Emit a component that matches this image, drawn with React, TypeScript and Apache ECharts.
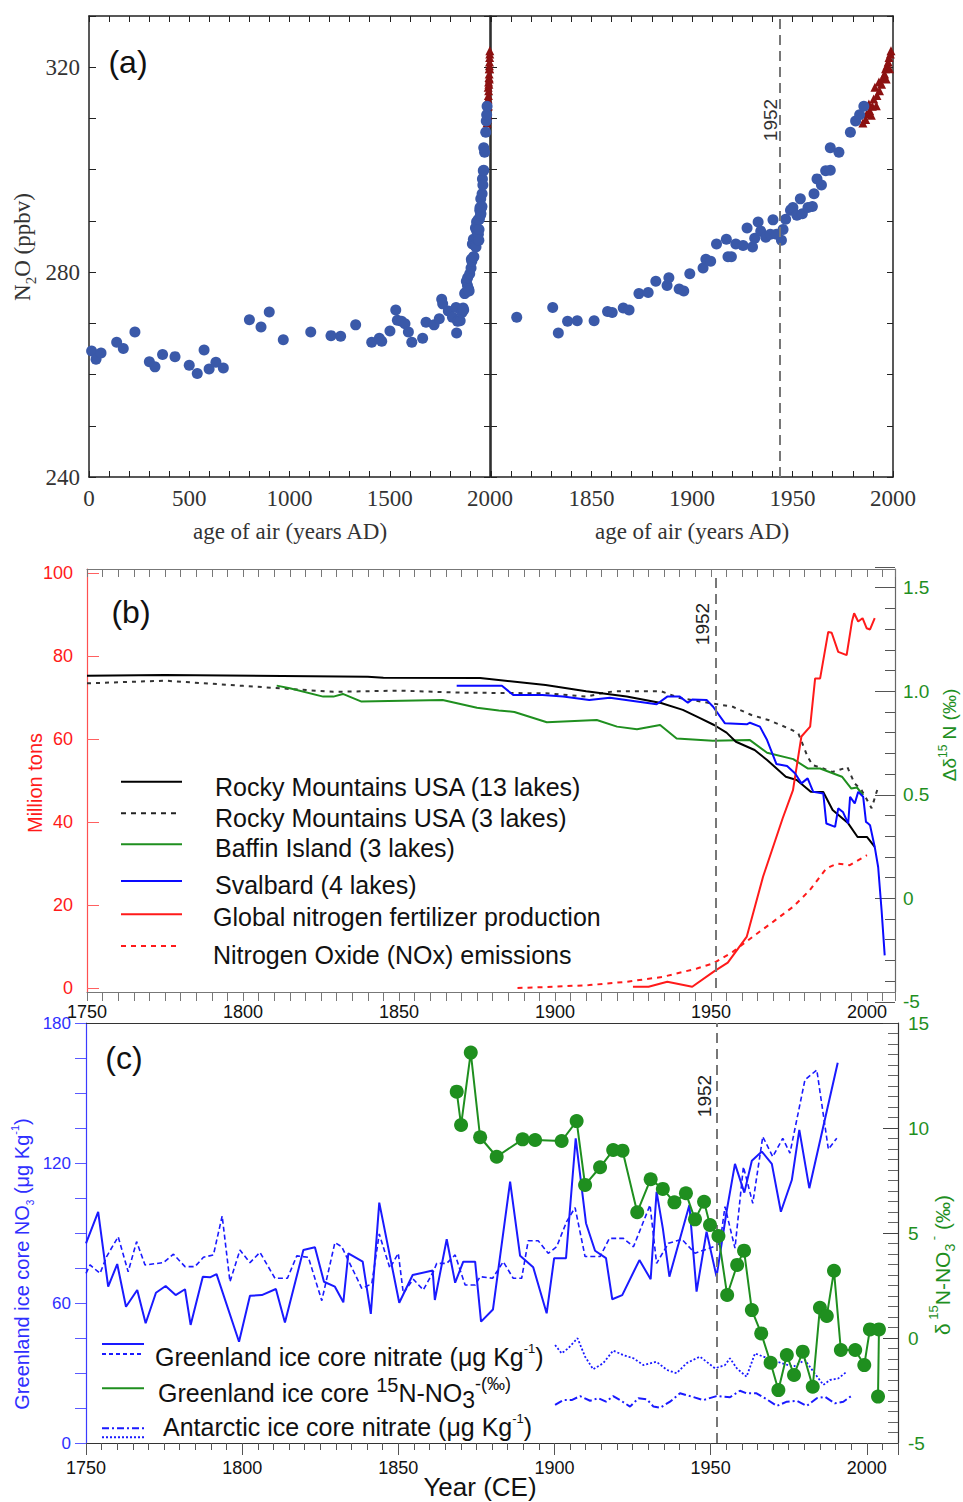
import React, { useEffect, useRef } from "react";
import * as echarts from "echarts";

const SANS = "Liberation Sans";
const SERIF = "Liberation Serif";

// ---------------- Panel (a): N2O ice core + atmospheric ----------------
const n2oIceEarly: [number, number][] = [
  [13, 264.6], [35, 263.0], [60, 264.2], [138, 266.3], [171, 265.1], [229, 268.3],
  [301, 262.5], [329, 261.5], [367, 263.9], [429, 263.5], [500, 261.8], [540, 260.2],
  [574, 264.8], [599, 261.1], [633, 262.4], [670, 261.3], [800, 270.7], [858, 269.3],
  [899, 272.2], [969, 266.8], [1106, 268.3], [1207, 267.6], [1255, 267.5], [1330, 269.7],
  [1410, 266.3], [1448, 267.1], [1460, 266.5], [1501, 268.5], [1530, 272.6], [1538, 270.6],
  [1559, 270.4], [1576, 269.9], [1593, 268.3], [1610, 266.3], [1664, 267.1], [1681, 270.2],
  [1721, 269.7], [1747, 270.9], [1759, 274.7], [1764, 273.8], [1792, 272.4],
];
const n2oIceRecent: [number, number][] = [
  [1812.8, 271.2], [1830.7, 273.1], [1833.5, 268.1], [1838.1, 270.4], [1842.9, 270.5],
  [1851.3, 270.5], [1858, 272.3], [1860.3, 272.1], [1865.8, 273.0], [1868.7, 272.6],
  [1873.6, 275.8], [1878.2, 276.0], [1882, 278.2], [1887.6, 277.4], [1888.5, 278.9],
  [1893.6, 276.7], [1895.9, 276.3], [1898.9, 279.7], [1905.5, 280.8], [1906.9, 282.5],
  [1909.3, 282.1], [1912.2, 285.5], [1917.1, 286.4], [1917.9, 283.0], [1919.6, 283.0],
  [1921.8, 285.5], [1925.4, 285.2], [1927.4, 288.6], [1930.1, 284.9], [1931.2, 286.6],
  [1932.9, 289.8], [1934.2, 288.0], [1936.7, 286.8], [1939, 287.4], [1940.3, 290.2],
  [1942, 287.4], [1944.5, 286.2], [1945.3, 288.3], [1946.6, 290.3], [1949, 292.1],
  [1950.2, 292.6], [1952.2, 291.1], [1953.9, 294.3], [1954.9, 291.4], [1957.7, 292.6],
  [1959.9, 292.8], [1960.7, 295.3], [1962.2, 298.2], [1964.4, 297.0], [1966.5, 299.8],
  [1968.8, 299.9], [1968.8, 304.3], [1973.1, 303.4], [1978.8, 307.3], [1981.4, 309.5],
  [1983.4, 310.7], [1985.5, 312.4],
];
const n2oAtmos: [number, number][] = [
  [1985.0, 309.1], [1986.4, 309.8], [1987.0, 310.9], [1988.4, 311.5], [1988.0, 312.8],
  [1989.2, 310.6], [1989.7, 312.4], [1990.4, 313.8], [1991.0, 316.1], [1991.7, 312.5],
  [1992.0, 314.5], [1993.3, 315.4], [1993.0, 317.1], [1994.3, 316.7], [1995.0, 318.0],
  [1995.8, 318.7], [1996.3, 319.7], [1996.6, 317.7], [1997.0, 320.3], [1997.6, 321.0],
  [1998.0, 321.9], [1998.3, 319.7], [1998.7, 322.6], [1999.0, 323.2],
];

// ---------------- Panel (b): lake sediment Δδ15N + fertilizer/NOx ----------------
const rocky13: [number, number][] = [
  [1750, 1.075], [1775, 1.078], [1840, 1.07], [1845, 1.065], [1876, 1.064], [1897, 1.03],
  [1910, 1.0], [1923, 0.975], [1934, 0.943], [1941, 0.91], [1946.5, 0.87], [1951, 0.837],
  [1955, 0.8], [1958, 0.756], [1964, 0.716], [1968, 0.668], [1974, 0.587], [1977.5, 0.571],
  [1982, 0.514], [1986, 0.513], [1989, 0.426], [1994, 0.362], [1997, 0.296], [2000, 0.296],
  [2002.5, 0.248],
];
const rocky3: [number, number][] = [
  [1750, 1.038], [1775, 1.051], [1800, 1.026], [1812, 1.014], [1829, 0.997], [1850, 1.003],
  [1870, 0.993], [1897, 0.99], [1910, 0.974], [1915, 0.99], [1919, 1.0], [1934, 1.0],
  [1940, 0.967], [1950.5, 0.941], [1957, 0.925], [1963, 0.885], [1968.4, 0.861], [1975, 0.82],
  [1978, 0.797], [1981, 0.683], [1982.6, 0.643], [1986, 0.627], [1989, 0.61], [1992.6, 0.627],
  [1993.7, 0.635], [1996, 0.556], [1998.3, 0.522], [2001.5, 0.435], [2003.6, 0.538],
];
const baffin: [number, number][] = [
  [1810.8, 1.027], [1815, 1.014], [1825.7, 0.974], [1829, 0.974], [1832, 0.987], [1838, 0.95],
  [1864, 0.958], [1875, 0.92], [1882, 0.907], [1887, 0.9], [1897.4, 0.85], [1913.4, 0.861],
  [1919.9, 0.829], [1926.3, 0.816], [1933.7, 0.837], [1939, 0.772], [1950.6, 0.761],
  [1962.5, 0.764], [1968, 0.703], [1976.4, 0.672], [1981, 0.627], [1985, 0.627], [1992, 0.587],
  [1995, 0.53], [1996.8, 0.535], [1998.8, 0.498],
];
const svalbard: [number, number][] = [
  [1868.5, 1.027], [1883, 1.026], [1886.6, 0.982], [1896, 0.982], [1902.6, 0.974], [1911, 0.958],
  [1917.6, 0.969], [1932.6, 0.937], [1936, 0.974], [1940, 0.974], [1942.6, 0.944], [1944, 0.96],
  [1948.6, 0.958], [1950.7, 0.925], [1954.5, 0.845], [1961.5, 0.84], [1962.5, 0.848],
  [1965.7, 0.829], [1968, 0.764], [1971, 0.648], [1974.4, 0.639], [1977, 0.603], [1979, 0.555],
  [1981, 0.579], [1982.8, 0.514], [1986, 0.506], [1987, 0.361], [1989.8, 0.345], [1990.8, 0.434],
  [1992.3, 0.417], [1994, 0.361], [1994.6, 0.49], [1996.1, 0.458], [1997.2, 0.514],
  [1998.8, 0.49], [1999.7, 0.369], [2000.4, 0.361], [2001, 0.353], [2002.5, 0.248],
  [2003.6, 0.151], [2004.7, -0.058], [2005.7, -0.276],
];
const fertilizer: [number, number][] = [
  [1925, 0.3], [1930, 0.3], [1936, 1.5], [1944, 0.3], [1951, 4], [1955.4, 6.1], [1961.5, 12.4],
  [1966.7, 26.8], [1973, 40.9], [1976.3, 47.7], [1979, 60.6], [1981.8, 63], [1983.4, 74.6],
  [1985, 74.6], [1987.6, 85.8], [1988.7, 85.6], [1990.8, 81], [1993.5, 80.2], [1995.2, 88.3],
  [1995.9, 90.3], [1997.2, 88.3], [1998.6, 89.1], [1999.9, 86.7], [2001, 86.4], [2002.5, 89.1],
];
const noxEmissions: [number, number][] = [
  [1888, 0], [1899.5, 0.3], [1911, 0.7], [1923, 1.5], [1934.7, 2.7], [1945.5, 4.7],
  [1950.6, 5.9], [1957, 8.7], [1963.5, 12.4], [1970, 16], [1976.4, 19.6], [1981.7, 23.6],
  [1987, 28.8], [1990.4, 30], [1994.5, 29.6], [2000, 32],
];

// ---------------- Panel (c): ice core nitrate ----------------
const greenlandNitrateA: [number, number][] = [
  [1750, 85.6], [1753.9, 99.1], [1757.1, 67.0], [1760, 76.7], [1762.8, 58.4], [1766.4, 65.6],
  [1769.1, 51.3], [1772.4, 64.4], [1775.5, 67.3], [1778.7, 63.4], [1781.7, 65.9], [1783.5, 50.6],
  [1787.4, 71.3], [1789.7, 71.0], [1791.8, 72.4], [1799, 43.4], [1802.5, 63.1], [1806.3, 63.4],
  [1810.8, 66.0], [1813.7, 51.6], [1819.6, 82.7], [1823.3, 83.9], [1826.2, 69.1], [1829.7, 67.0],
  [1832.4, 60.3], [1834, 81.3], [1838.6, 77.7], [1841.2, 55.3], [1843.9, 103.0], [1850.3, 60.1],
  [1854.6, 72.0], [1861, 73.9], [1861.7, 61.3], [1865.5, 87.3], [1868.2, 68.7], [1870.8, 77.7],
  [1874.6, 77.7], [1876.5, 52.0], [1880.3, 57.2], [1885.8, 112.0], [1889, 80.2], [1893.2, 75.3],
  [1897.5, 55.6], [1899.9, 79.2], [1903.7, 79.2], [1906.8, 130.6], [1910.1, 94.2], [1913, 82.4],
  [1916.5, 79.2], [1918.5, 61.6], [1921.7, 63.4], [1927.2, 78.4], [1930.8, 70.2], [1932.7, 107.7],
  [1934.7, 92.0], [1936.8, 71.3], [1943.2, 102.0], [1945.5, 64.9], [1948.7, 90.6], [1951.9, 71.3],
  [1955.1, 99.1], [1957.8, 119.6], [1960.8, 107.3], [1963.2, 121.0], [1966.4, 124.9],
  [1969.6, 119.6], [1972.5, 99.1], [1976, 112.7], [1978.4, 134.2], [1981.6, 109.2], [1990.7, 163.0],
];
const greenlandNitrateB: [number, number][] = [
  [1750, 72.7], [1751.3, 76.3], [1754.5, 72.7], [1756.6, 79.9], [1760.3, 88.4], [1763.5, 73.4],
  [1766.2, 86.3], [1768.9, 76.3], [1774.8, 77.3], [1778, 80.9], [1781.7, 75.6], [1784.9, 75.6],
  [1787.6, 79.6], [1790.8, 80.6], [1793.6, 97.3], [1796.1, 69.1], [1799.3, 82.7], [1802.5, 77.3],
  [1805.7, 81.7], [1810.5, 70.6], [1814.5, 70.6], [1817.5, 80.2], [1821.2, 79.6], [1825.5, 61.0],
  [1829.7, 85.9], [1831.9, 84.1], [1838.3, 66.3], [1841.5, 68.2], [1843.9, 89.6], [1847.3, 74.9],
  [1850, 81.3], [1851.6, 64.2], [1854.8, 70.2], [1858, 65.6], [1861.2, 73.4], [1862.3, 77.0],
  [1865.5, 77.0], [1868.2, 80.6], [1871.4, 67.7], [1874.6, 67.7], [1876.2, 71.3], [1880.2, 70.6],
  [1883.6, 77.7], [1886.8, 70.6], [1889.5, 70.6], [1891.6, 86.7], [1894.8, 86.7], [1898, 81.3],
  [1900.7, 84.1], [1903.9, 94.9], [1906.6, 100.9], [1909.8, 79.9], [1914.6, 79.9], [1917.6, 87.7],
  [1922.1, 87.7], [1925.3, 84.1], [1930.6, 102.0], [1932.7, 77.0], [1936.5, 85.6], [1940.8, 87.3],
  [1945, 81.3], [1950.9, 84.1], [1953, 85.6], [1954.6, 101.3], [1957.8, 83.5], [1960.5, 118.4],
  [1963.5, 102.7], [1966.7, 131.3], [1969.9, 122.7], [1973.1, 130.6], [1975.4, 124.2],
  [1980.2, 155.6], [1984, 159.9], [1987.7, 125.9], [1990.4, 130.6],
];
const antarcticNitrateA: [number, number][] = [
  [1900.2, 42.0], [1902.3, 38.4], [1904.4, 40.6], [1907.4, 44.9], [1909.8, 37.0], [1912.4, 31.6],
  [1915.6, 34.2], [1918.8, 39.6], [1922, 37.7], [1925.3, 36.3], [1928.5, 33.4], [1932.7, 34.8],
  [1936, 31.3], [1939.1, 29.9], [1942.3, 34.2], [1946.6, 37.0], [1951.4, 32.0], [1954.6, 33.4],
  [1956.2, 36.3], [1958.4, 32.0], [1961.5, 28.4], [1964.2, 38.4], [1969, 35.9], [1972.8, 34.2],
  [1976.5, 32.7], [1980.2, 35.6], [1982.9, 30.6], [1986.1, 24.9], [1988.2, 27.0], [1990.9, 27.7],
  [1993.6, 30.6],
];
const antarcticNitrateB: [number, number][] = [
  [1900.2, 16.3], [1902.8, 18.4], [1905.5, 18.4], [1908.2, 20.1], [1911.4, 18.1], [1914, 19.2],
  [1916.5, 17.7], [1918.8, 20.1], [1921, 18.4], [1924.2, 15.6], [1926.9, 19.2], [1929.6, 18.7],
  [1931.7, 15.6], [1933.8, 15.1], [1937, 17.7], [1940.2, 21.3], [1943.4, 20.1], [1947.7, 18.4],
  [1951.9, 20.1], [1956.2, 19.6], [1959.4, 22.4], [1961.5, 21.3], [1964.7, 21.3], [1968, 18.7],
  [1971.2, 15.9], [1974.4, 17.7], [1977.6, 18.1], [1980.8, 15.9], [1984, 19.2], [1986.6, 19.8],
  [1989.8, 17.0], [1992.5, 17.7], [1995, 20.1],
];
const greenlandD15N: [number, number][] = [
  [1868.7, 11.73], [1870.1, 10.14], [1873.2, 13.59], [1876.2, 9.56], [1881.5, 8.63],
  [1889.8, 9.46], [1893.8, 9.43], [1902.3, 9.38], [1907.1, 10.33], [1909.8, 7.29],
  [1914.6, 8.13], [1918.8, 8.95], [1921.8, 8.92], [1926.5, 5.99], [1930.8, 7.56],
  [1934.7, 7.1], [1938.4, 6.46], [1942.1, 6.89], [1945, 5.65], [1947.9, 6.49], [1949.8, 5.38],
  [1952.5, 4.86], [1955.3, 2.05], [1958.5, 3.48], [1960.7, 4.16], [1963.2, 1.33], [1966.2, 0.22],
  [1969.2, -1.18], [1971.7, -2.48], [1974.4, -0.81], [1976.7, -1.76], [1979.5, -0.65],
  [1982.7, -2.32], [1985, 1.44], [1987.2, 1.05], [1989.5, 3.2], [1991.7, -0.57], [1996.3, -0.57],
  [1999.2, -1.29], [2001, 0.41], [2003.9, 0.41], [2003.6, -2.79],
];

// reference lines labelled "1952" (positions as drawn in each panel)
const refLineA = 1943.6;
const refLineB = 1951.4;
const refLineC = 1952;

// colours
const DOT = "#3a59a9";
const TRI = "#8c1111";
const RED = "#ff1a1a";
const GREEN = "#1f8f1f";
const BLUE = "#1a1aff";
const DARK = "#222";

const plain = (v: number) => String(v);

function axis(o: any) {
  return {
    type: "value",
    splitLine: { show: false },
    axisLabel: { show: false },
    axisTick: { show: false },
    axisLine: { show: true, onZero: false, lineStyle: { color: DARK, width: 1.5 } },
    ...o,
  };
}

function line(data: any, xi: number, yi: number, color: string, width: number, type: any, z = 2, extra: any = {}) {
  return {
    type: "line",
    data,
    xAxisIndex: xi,
    yAxisIndex: yi,
    showSymbol: false,
    symbol: "none",
    z,
    lineStyle: { color, width, type },
    itemStyle: { color },
    silent: true,
    ...extra,
  };
}

function markLineAt(value: number) {
  return {
    silent: true,
    symbol: ["none", "none"],
    label: { show: false },
    lineStyle: { color: "#777", width: 2, type: [10, 6] },
    data: [{ xAxis: value }],
  };
}

function T(x: number, y: number, text: string, o: any = {}) {
  const align = o.align || "center";
  const va = o.va || "middle";
  return {
    type: "text",
    x,
    y,
    rotation: o.rot || 0,
    silent: true,
    z: 100,
    style: {
      text,
      fill: o.fill || "#111",
      fontSize: o.size || 20,
      fontFamily: o.family || SANS,
      align,
      verticalAlign: va,
      textAlign: align,
      textVerticalAlign: va,
      rich: o.rich,
    },
  };
}

function L(x1: number, x2: number, y: number, stroke: string, dash: any, w = 2) {
  return {
    type: "line",
    silent: true,
    z: 100,
    shape: { x1, y1: y, x2, y2: y },
    style: { stroke, lineWidth: w, lineDash: dash || null },
  };
}

function rs(size: number, family: string, fill: string, va?: string, lh?: number) {
  const r: any = { fontSize: size, fontFamily: family, fill, color: fill };
  if (va) r.verticalAlign = va;
  if (lh) r.lineHeight = lh;
  return r;
}

function buildOption() {
  const serifLabel = { show: true, fontFamily: SERIF, fontSize: 23, color: "#333", formatter: plain };

  const xAxis = [
    // 0: (a) left bottom
    axis({ gridIndex: 0, min: 0, max: 2000, interval: 500, position: "bottom",
      axisTick: { show: true, inside: true, length: 6, lineStyle: { color: DARK } },
      minorTick: { show: true, splitNumber: 5, length: 6, lineStyle: { color: DARK } },
      axisLabel: { ...serifLabel, margin: 10 } }),
    // 1: (a) left top
    axis({ gridIndex: 0, min: 0, max: 2000, interval: 100, position: "top",
      axisTick: { show: true, inside: true, length: 6, lineStyle: { color: DARK } } }),
    // 2: (a) right bottom
    axis({ gridIndex: 1, min: 1800, max: 2000, interval: 50, position: "bottom",
      axisTick: { show: true, inside: true, length: 6, lineStyle: { color: DARK } },
      minorTick: { show: true, splitNumber: 5, length: 6, lineStyle: { color: DARK } },
      axisLabel: { ...serifLabel, margin: 10, showMinLabel: false } }),
    // 3: (a) right top
    axis({ gridIndex: 1, min: 1800, max: 2000, interval: 10, position: "top",
      axisTick: { show: true, inside: true, length: 6, lineStyle: { color: DARK } } }),
    // 4: (b) red hidden
    axis({ gridIndex: 2, min: 1750, max: 2009, show: false }),
    // 5: (b) lakes hidden
    axis({ gridIndex: 3, min: 1750, max: 2009, show: false }),
    // 6: (b) bottom labels
    axis({ gridIndex: 4, min: 1750, max: 2009, interval: 50, position: "bottom",
      axisLine: { show: true, onZero: false, lineStyle: { color: "#777", width: 1.2 } },
      axisLabel: { show: true, fontSize: 18, color: "#111", margin: 11, showMaxLabel: false, formatter: plain } }),
    // 7: (b) bottom ticks
    axis({ gridIndex: 4, min: 1750, max: 2009, interval: 5, position: "bottom",
      axisLine: { show: false, onZero: false },
      axisTick: { show: true, inside: false, length: 9, lineStyle: { color: "#777" } } }),
    // 8: (b) top ticks
    axis({ gridIndex: 4, min: 1750, max: 2009, interval: 5, position: "top",
      axisLine: { show: true, onZero: false, lineStyle: { color: "#777", width: 1.2 } },
      axisTick: { show: true, inside: true, length: 8, lineStyle: { color: "#777" } } }),
    // 9: (c) bottom
    axis({ gridIndex: 5, min: 1750, max: 2010, interval: 50, position: "bottom",
      axisLine: { show: true, onZero: false, lineStyle: { color: "#333", width: 1.2 } },
      axisTick: { show: true, inside: false, length: 12, lineStyle: { color: "#555" } },
      minorTick: { show: true, splitNumber: 10, length: 7, lineStyle: { color: "#555" } },
      axisLabel: { show: true, fontSize: 18, color: "#111", margin: 16, showMaxLabel: false, formatter: plain } }),
    // 10: (c) top
    axis({ gridIndex: 5, min: 1750, max: 2010, position: "top",
      axisLine: { show: true, onZero: false, lineStyle: { color: "#333", width: 1.2 } } }),
  ];

  const yAxis = [
    // 0: (a) left
    axis({ gridIndex: 0, min: 240, max: 330, interval: 10, position: "left",
      axisTick: { show: true, inside: true, length: 7, lineStyle: { color: DARK } },
      axisLabel: { ...serifLabel, margin: 9,
        formatter: (v: number) => ((v - 240) % 40 === 0 ? String(v) : "") } }),
    // 1: (a) left panel, right side
    axis({ gridIndex: 0, min: 240, max: 330, interval: 10, position: "right",
      axisTick: { show: true, inside: true, length: 6, lineStyle: { color: DARK } } }),
    // 2: (a) right panel, left side
    axis({ gridIndex: 1, min: 240, max: 330, interval: 10, position: "left",
      axisTick: { show: true, inside: true, length: 6, lineStyle: { color: DARK } } }),
    // 3: (a) right panel, right side
    axis({ gridIndex: 1, min: 240, max: 330, interval: 10, position: "right",
      axisTick: { show: true, inside: true, length: 6, lineStyle: { color: DARK } } }),
    // 4: (b) Million tons
    axis({ gridIndex: 2, min: 0, max: 100, interval: 20, position: "left",
      axisLine: { show: false, onZero: false },
      axisTick: { show: true, inside: true, length: 12, lineStyle: { color: "#ff6060" } },
      axisLabel: { show: true, fontSize: 18, color: RED, margin: 14 } }),
    // 5: (b) Δδ15N
    axis({ gridIndex: 3, min: -0.5, max: 1.6, interval: 0.5, position: "right",
      axisLine: { show: false, onZero: false },
      axisTick: { show: true, inside: true, length: 20, lineStyle: { color: "#555" } },
      minorTick: { show: true, splitNumber: 5, length: 10, lineStyle: { color: "#555" } },
      axisLabel: { show: true, fontSize: 19, color: GREEN, margin: 8, showMaxLabel: false,
        formatter: (v: number) => (v === -0.5 ? "-5" : v === 0 ? "0" : v.toFixed(1)) } }),
    // 6: (b) frame left
    axis({ gridIndex: 4, min: 0, max: 1, position: "left",
      axisLine: { show: true, onZero: false, lineStyle: { color: "#ff5050", width: 1.2 } } }),
    // 7: (b) frame right
    axis({ gridIndex: 4, min: 0, max: 1, position: "right",
      axisLine: { show: true, onZero: false, lineStyle: { color: "#666", width: 1.2 } } }),
    // 8: (c) left nitrate
    axis({ gridIndex: 5, min: 0, max: 180, interval: 60, position: "left",
      axisLine: { show: true, onZero: false, lineStyle: { color: "#3b3bff", width: 1.2 } },
      axisTick: { show: true, inside: false, length: 11, lineStyle: { color: "#5a5aff" } },
      minorTick: { show: true, splitNumber: 4, length: 11, lineStyle: { color: "#5a5aff" } },
      axisLabel: { show: true, fontSize: 17, color: "#2f2fff", margin: 15 } }),
    // 9: (c) right δ15N
    axis({ gridIndex: 5, min: -5, max: 15, interval: 5, position: "right",
      axisLine: { show: true, onZero: false, lineStyle: { color: "#333", width: 1.2 } },
      axisTick: { show: true, inside: true, length: 15, lineStyle: { color: "#444" } },
      minorTick: { show: true, splitNumber: 10, length: 10, lineStyle: { color: "#666" } },
      axisLabel: { show: true, fontSize: 19, color: GREEN, margin: 10 } }),
  ];

  const series: any[] = [
    // (a) left panel
    { type: "scatter", xAxisIndex: 0, yAxisIndex: 0, data: n2oAtmos, symbol: "triangle",
      symbolSize: 9, itemStyle: { color: TRI, opacity: 1 }, z: 3, silent: true },
    { type: "scatter", xAxisIndex: 0, yAxisIndex: 0, data: [...n2oIceEarly, ...n2oIceRecent],
      symbolSize: 11, itemStyle: { color: DOT, opacity: 1 }, z: 4, silent: true },
    // (a) right panel
    { type: "scatter", xAxisIndex: 2, yAxisIndex: 2, data: n2oAtmos, symbol: "triangle",
      symbolSize: 9, itemStyle: { color: TRI, opacity: 1 }, z: 3, silent: true },
    { type: "scatter", xAxisIndex: 2, yAxisIndex: 2, data: n2oIceRecent,
      symbolSize: 11, itemStyle: { color: DOT, opacity: 1 }, z: 4, silent: true,
      markLine: markLineAt(refLineA) },
    // (b)
    line(noxEmissions, 4, 4, RED, 2, [5, 5], 3),
    line(fertilizer, 4, 4, RED, 2, "solid", 4, { markLine: markLineAt(refLineB) }),
    line(rocky3, 5, 5, "#333", 2, [4, 5], 2),
    line(baffin, 5, 5, GREEN, 2, "solid", 2),
    line(rocky13, 5, 5, "#000", 2, "solid", 3),
    line(svalbard, 5, 5, "#0a0aff", 2, "solid", 4),
    // (c)
    line(antarcticNitrateA, 9, 8, BLUE, 1.8, [2, 2], 2),
    line(antarcticNitrateB, 9, 8, BLUE, 2, [8, 3, 2, 3], 2),
    line(greenlandNitrateB, 9, 8, BLUE, 1.6, [5, 3], 2),
    line(greenlandNitrateA, 9, 8, BLUE, 2, "solid", 3, { markLine: markLineAt(refLineC) }),
    { type: "line", xAxisIndex: 9, yAxisIndex: 9, data: greenlandD15N, symbol: "circle",
      symbolSize: 14, showSymbol: true, z: 5, silent: true,
      lineStyle: { color: GREEN, width: 2 }, itemStyle: { color: GREEN, opacity: 1 } },
  ];

  const graphics: any[] = [
    // ---- (a)
    T(128, 62, "(a)", { size: 32 }),
    T(770, 120, "1952", { size: 19, rot: Math.PI / 2, fill: "#333" }),
    T(22, 247, "{n|N}{s|2}{n|O (ppbv)}", {
      rot: Math.PI / 2, size: 23, family: SERIF, fill: "#333",
      rich: { n: rs(23, SERIF, "#333"), s: rs(15, SERIF, "#333", "bottom", 32) },
    }),
    T(290, 531, "age of air (years AD)", { size: 23, family: SERIF, fill: "#333" }),
    T(692, 531, "age of air (years AD)", { size: 23, family: SERIF, fill: "#333" }),
    // ---- (b)
    T(131, 612, "(b)", { size: 32 }),
    T(702, 624, "1952", { size: 19, rot: Math.PI / 2, fill: "#222" }),
    T(35, 783, "Million tons", { size: 20, rot: Math.PI / 2, fill: RED }),
    T(949, 735, "{n|Δδ}{s|15}{n| N (‰)}", {
      rot: Math.PI / 2, size: 19, fill: GREEN,
      rich: { n: rs(19, SANS, GREEN), s: rs(12, SANS, GREEN, "top", 24) },
    }),
    L(121, 182, 781.7, "#000", null),
    L(121, 177, 813.3, "#222", [5, 5]),
    L(121, 182, 844.3, GREEN, null),
    L(121, 182, 881, "#0a0aff", null),
    L(121, 182, 914.3, RED, null),
    L(121, 177, 946, RED, [5, 5]),
    T(215, 787, "Rocky Mountains USA (13 lakes)", { size: 25, align: "left" }),
    T(215, 818, "Rocky Mountains USA (3 lakes)", { size: 25, align: "left" }),
    T(215, 848, "Baffin Island (3 lakes)", { size: 25, align: "left" }),
    T(215, 885, "Svalbard (4 lakes)", { size: 25, align: "left" }),
    T(213, 917, "Global nitrogen fertilizer production", { size: 25, align: "left" }),
    T(213, 955, "Nitrogen Oxide (NOx) emissions", { size: 25, align: "left" }),
    // ---- (c)
    T(124, 1058, "(c)", { size: 32 }),
    T(704, 1096, "1952", { size: 19, rot: Math.PI / 2, fill: "#222" }),
    T(480, 1487, "Year (CE)", { size: 26 }),
    T(22, 1264, "{n|Greenland ice core NO}{b|3}{n| (μg Kg}{s|-1}{n|)}", {
      rot: Math.PI / 2, size: 20, fill: "#2f2fff",
      rich: { n: rs(20, SANS, "#2f2fff"), b: rs(10, SANS, "#2f2fff", "bottom", 26),
        s: rs(11, SANS, "#2f2fff", "top", 26) },
    }),
    T(942, 1265, "{n|δ}{s| 15}{n|N-NO}{b|3}{s| -}{n| (‰)}", {
      rot: Math.PI / 2, size: 21, fill: GREEN,
      rich: { n: rs(21, SANS, GREEN), b: rs(14, SANS, GREEN, "bottom", 30),
        s: rs(13, SANS, GREEN, "top", 30) },
    }),
    L(102, 144, 1344, BLUE, null),
    L(102, 144, 1354, BLUE, [4, 3]),
    L(102, 144, 1388.3, GREEN, null),
    L(102, 144, 1428.3, BLUE, [7, 3, 2, 3]),
    L(102, 144, 1437.3, BLUE, [2, 2]),
    T(155, 1357, "{n|Greenland ice core nitrate (μg Kg}{s|-1}{n|)}", {
      size: 25, align: "left",
      rich: { n: rs(25, SANS, "#111"), s: rs(13, SANS, "#111", "top", 30) },
    }),
    T(158, 1393, "{n|Greenland ice core }{s|15}{n|N-NO}{b|3}{t|-(‰)}", {
      size: 25, align: "left",
      rich: { n: rs(25, SANS, "#111"), s: rs(20, SANS, "#111", "top", 36),
        b: rs(23, SANS, "#111", "bottom", 36), t: rs(18, SANS, "#111", "top", 36) },
    }),
    T(163, 1427, "{n|Antarctic ice core nitrate (μg Kg}{s|-1}{n|)}", {
      size: 25, align: "left",
      rich: { n: rs(25, SANS, "#111"), s: rs(13, SANS, "#111", "top", 30) },
    }),
  ];

  return {
    animation: false,
    backgroundColor: "#fff",
    textStyle: { fontFamily: SANS },
    grid: [
      { left: 89, top: 16, width: 401, height: 461 },
      { left: 491, top: 16, width: 402, height: 461 },
      { left: 87, top: 573, width: 808, height: 415 },
      { left: 87, top: 567, width: 808, height: 434.8 },
      { left: 87, top: 569, width: 808, height: 423 },
      { left: 86, top: 1023, width: 812, height: 420 },
    ],
    xAxis,
    yAxis,
    series,
    graphic: { elements: graphics },
  };
}

export default function App() {
  const ref = useRef<HTMLDivElement>(null);
  useEffect(() => {
    document.body.style.margin = "0";
    const chart = echarts.init(ref.current as HTMLDivElement, null, { renderer: "svg" });
    chart.setOption(buildOption() as any);
    return () => chart.dispose();
  }, []);
  return <div ref={ref} style={{ width: 963, height: 1502 }} />;
}
